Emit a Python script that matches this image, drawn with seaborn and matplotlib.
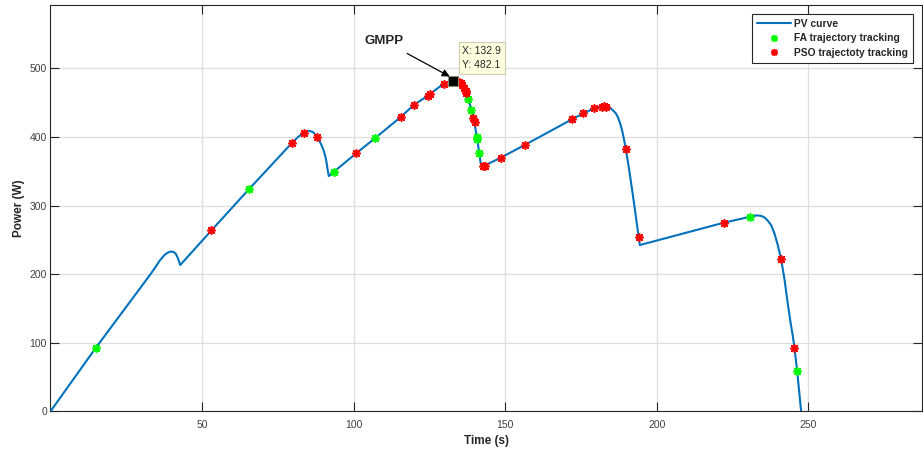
import numpy as np
import pandas as pd
import matplotlib
matplotlib.use("Agg")
import matplotlib.pyplot as plt
import seaborn as sns
from matplotlib.lines import Line2D

# PV power curve over time (s, W)
curve_time = [0, 14.9, 31.0, 33.0, 34.5, 36.0, 37.5, 38.7, 39.7, 40.6, 41.3, 41.9, 42.4, 42.8,
              53.1, 65.5, 79.5, 81.8, 83.5, 84.7, 85.7, 86.8, 87.9, 88.8, 89.6, 90.2, 90.7, 91.1, 91.4, 91.8,
              93.4, 100.8, 107, 115.5, 119.8, 124.4, 129.7, 130.9, 132.0, 132.9,
              133.7, 134.5, 135.3, 136.0, 136.4, 136.9, 137.5, 138.0, 138.8, 139.7, 140.6, 141.3, 141.9, 142.4,
              148.5, 156.4, 172, 175.8, 179.3, 181.0, 181.8, 182.6, 183.4, 184.1, 184.8, 185.6, 186.5, 187.2, 187.9,
              188.5, 189.0, 189.8, 190.9, 192.5, 194.0, 194.4,
              222.1, 230.8, 232.0, 233.3, 234.5, 235.5, 236.5, 237.7, 238.8, 239.9, 241.0, 242.1,
              243.2, 244.1, 244.9, 245.4, 246.3, 247.6]
curve_power = [0, 92.3, 188, 200, 209.5, 219.5, 227.5, 231.5, 233, 232.3, 229.8, 224.5, 218.5, 213.3,
               263.8, 324, 390.6, 400.5, 405.8, 408.2, 408.6, 406.5, 399.8, 393.5, 386, 379, 371, 362, 352.5, 343,
               349, 376, 398, 429, 446.5, 460, 477.7, 480, 481.5, 482.1,
               481.6, 480.3, 478, 474.5, 471.5, 466.5, 460.5, 453.8, 439.2, 424.6, 400.3, 380.9, 361.5, 356.6,
               369.7, 388.2, 425.7, 434.4, 441.7, 443.8, 444.3, 444.5, 444.3, 443.5, 441.7, 438.5, 434.4, 428.5, 419.8,
               410.5, 400.3, 382, 351.7, 303, 254.5, 242.4,
               275, 283.7, 285.1, 285.6, 284.8, 282.7, 278.5, 271.6, 259.5, 242.4, 222, 193,
               157, 130, 108.7, 92.7, 58.7, 0]

# Firefly algorithm tracking samples
fa_time = [14.9, 65.5, 93.4, 107, 134.2, 137.8, 138.8, 140.6, 140.8, 141.5, 230.8, 246.3]
fa_power = [92.3, 324, 349, 398, 480.8, 456, 439.2, 400.3, 396.5, 377, 283.7, 58.7]

# PSO tracking samples
pso_time = [53.1, 79.5, 83.5, 87.9, 100.8, 115.5, 119.8, 124.4, 125.1, 129.7,
            133.3, 133.8, 134.3, 134.8, 135.3, 135.8, 136.4, 136.9, 137.2,
            139.5, 139.9, 142.6, 143.3, 148.5, 156.4, 172, 175.8, 179.3,
            181.8, 182.6, 183.4, 189.8, 194.0, 222.1, 241.0, 245.4]
pso_power = [263.8, 390.6, 405.8, 399.8, 376, 429, 446.5, 460, 462.5, 477.7,
             482, 481.5, 480.7, 479.5, 478, 475.5, 471.5, 466.5, 463.5,
             428, 422, 357.6, 358.2, 369.7, 388.2, 425.7, 434.4, 441.7,
             444.3, 444.5, 444.3, 382, 254.5, 275, 222, 92.7]

# Global maximum power point
gmpp_time = 132.9
gmpp_power = 482.1

x_ticks = [50, 100, 150, 200, 250]
y_ticks = [0, 100, 200, 300, 400, 500]

sns.set_theme(style="white")
plt.rcParams["font.family"] = ["Liberation Sans", "DejaVu Sans"]

fig = plt.figure(figsize=(9.23, 4.54), dpi=100)
ax = fig.add_axes([0.0547, 0.094, 0.9443, 0.8944])

curve_df = pd.DataFrame({"time": curve_time, "power": curve_power})
fa_df = pd.DataFrame({"time": fa_time, "power": fa_power})
pso_df = pd.DataFrame({"time": pso_time, "power": pso_power})

blue = (0, 0.447, 0.741)
asterisk = (8, 2, 0)

sns.lineplot(data=curve_df, x="time", y="power", ax=ax, color=blue,
             linewidth=1.5, estimator=None, sort=False, zorder=3)
sns.scatterplot(data=fa_df, x="time", y="power", ax=ax, marker=asterisk,
                s=28, color=(0, 1, 0), edgecolor=(0, 1, 0), linewidth=1.2, zorder=4)
sns.scatterplot(data=pso_df, x="time", y="power", ax=ax, marker=asterisk,
                s=28, color=(1, 0, 0), edgecolor=(1, 0, 0), linewidth=1.2, zorder=5)

ax.plot([gmpp_time], [gmpp_power], marker="s", markersize=7,
        markerfacecolor="black", markeredgecolor=(0.55, 0.55, 0.45),
        markeredgewidth=0.8, linestyle="none", zorder=7)

ax.annotate("GMPP", xy=(gmpp_time - 1.2, gmpp_power + 6), xytext=(110, 540),
            fontsize=9.5, fontweight="bold", ha="center", va="center",
            arrowprops=dict(arrowstyle="-|>", color="black", lw=0.9,
                            mutation_scale=11, shrinkA=5, shrinkB=0),
            zorder=8)
ax.text(135.8, 515.5, f"X: {gmpp_time:.1f}\nY: {gmpp_power:.1f}",
        fontsize=7.5, ha="left", va="center", linespacing=1.55,
        color=(0.15, 0.15, 0.15), zorder=8,
        bbox=dict(boxstyle="square,pad=0.35", facecolor=(1, 1, 0.88),
                  edgecolor=(0.8, 0.8, 0.7), linewidth=0.8))

ax.set_xlim(0, 287.5)
ax.set_ylim(0, 592)
ax.set_xticks(x_ticks)
ax.set_yticks(y_ticks)
ax.grid(True, color=(0.87, 0.87, 0.87), linewidth=0.9)
ax.set_axisbelow(True)
ax.tick_params(direction="in", length=6.5, width=0.8, color=(0.15, 0.15, 0.15),
               labelsize=7.5, labelcolor=(0.25, 0.25, 0.25),
               top=True, right=True, bottom=True, left=True)
ax.tick_params(axis="x", pad=6)
ax.tick_params(axis="y", pad=2.5)
for side in ax.spines.values():
    side.set_visible(True)
    side.set_color((0.15, 0.15, 0.15))
    side.set_linewidth(0.8)

ax.set_xlabel("Time (s)", fontsize=8.5, fontweight="bold", labelpad=4)
ax.set_ylabel("Power (W)", fontsize=8.5, fontweight="bold", labelpad=3)

handles = [
    Line2D([], [], color=blue, linewidth=1.5, label="PV curve"),
    Line2D([], [], color=(0, 1, 0), marker=asterisk, markersize=5, markeredgewidth=1.2,
           linestyle="none", label="FA trajectory tracking"),
    Line2D([], [], color=(1, 0, 0), marker=asterisk, markersize=5, markeredgewidth=1.2,
           linestyle="none", label="PSO trajectoty tracking"),
]
leg = ax.legend(handles=handles, loc="upper right", bbox_to_anchor=(0.99, 0.979),
                prop={"weight": "bold", "size": 7.4}, frameon=True, fancybox=False,
                edgecolor=(0.15, 0.15, 0.15), framealpha=1, handlelength=3.3,
                handletextpad=0.35, borderpad=0.5, labelspacing=0.42,
                borderaxespad=0)
leg.get_frame().set_linewidth(0.8)

fig.savefig("out.png", dpi=100)
